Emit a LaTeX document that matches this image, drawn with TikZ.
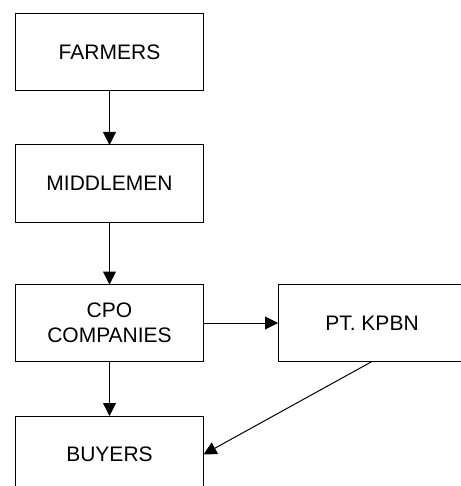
\documentclass[tikz,border=0pt]{standalone}
\usepackage{fontspec}
\setmainfont{Liberation Sans}
\usepackage{tikz}
\usetikzlibrary{arrows.meta}

\begin{document}
\begin{tikzpicture}[x=0.5pt, y=-0.5pt, inner sep=0pt, outer sep=0pt, line width=0.5pt,
    every node/.style={font=\fontsize{10.5}{12.5}\selectfont},
    chainbox/.style={draw, minimum width=94pt, minimum height=38.5pt, align=center},
    flow/.style={-{Triangle[length=6.5pt, width=6.5pt]}}]
    \useasboundingbox (0,0) rectangle (460,486);

    % supply chain, top to bottom
    \node[chainbox] (farmers) at (109.5, 52) {FARMERS};
    \node[chainbox] (middlemen) at (109.5, 183.5) {MIDDLEMEN};
    \node[chainbox] (cpo) at (109.5, 323) {CPO\\COMPANIES};
    \node[chainbox] (buyers) at (109.5, 454.5) {BUYERS};

    % side branch
    \node[chainbox] (kpbn) at (372, 323) {PT. KPBN};

    \draw[flow] (farmers) -- (middlemen);
    \draw[flow] (middlemen) -- (cpo);
    \draw[flow] (cpo) -- (buyers);
    \draw[flow] (cpo) -- (kpbn);
    \draw[flow] (kpbn.south) -- (buyers.east);
\end{tikzpicture}
\end{document}
